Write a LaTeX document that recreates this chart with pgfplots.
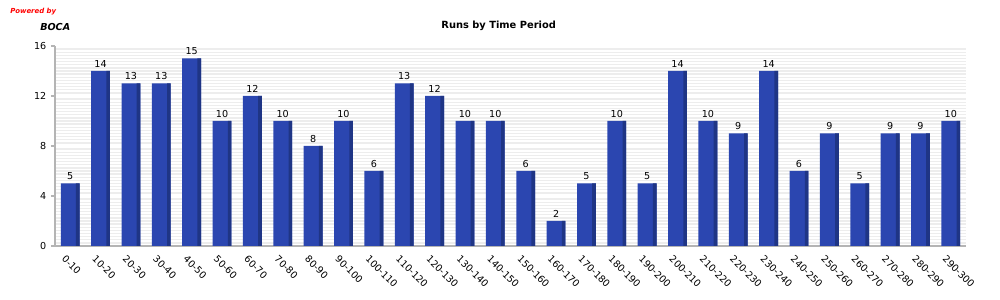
\documentclass[border=0pt]{standalone}
\usepackage{pgfplots}
\pgfplotsset{compat=1.18}
\usepackage{fontspec}
\setmainfont{DejaVu Sans}
\definecolor{barblue}{HTML}{2B46B0}
\definecolor{bardark}{HTML}{1F3585}
\definecolor{axgray}{HTML}{B4B4B4}
\definecolor{stripe}{HTML}{EDEDED}
\pgfplotstableread{
x y
0 5
1 14
2 13
3 13
4 15
5 10
6 12
7 10
8 8
9 10
10 6
11 13
12 12
13 10
14 10
15 6
16 2
17 5
18 10
19 5
20 14
21 10
22 9
23 14
24 6
25 9
26 5
27 9
28 9
29 10
}\runs
\begin{document}
\begin{tikzpicture}[x=1pt,y=1pt]
\useasboundingbox (0,0) rectangle (750,225);
\node[anchor=west,text=red,font=\fontsize{5.2}{6}\selectfont\bfseries\itshape,inner sep=0] at (7.5,216) {Powered by};
\node[anchor=west,font=\fontsize{7.2}{8}\selectfont\bfseries\itshape,inner sep=0] at (30,205) {BOCA};
\node[font=\fontsize{7.4}{8}\selectfont\bfseries] at (374,206) {Runs by Time Period};
\begin{axis}[
  at={(41.25pt,40.5pt)}, anchor=south west,
  width=683.25pt, height=150pt, scale only axis,
  xmin=-0.5, xmax=29.5, ymin=0, ymax=16,
  axis x line*=bottom, axis y line*=left,
  axis line style={axgray, line width=1.5pt, -},
  ytick={0,4,8,12,16},
  minor y tick num=15,
  yminorgrids=true,
  minor grid style={stripe, line width=1pt},
  minor tick length=0pt,
  xtick={0,...,29},
  xticklabels={0-10,10-20,20-30,30-40,40-50,50-60,60-70,70-80,80-90,90-100,100-110,110-120,120-130,130-140,140-150,150-160,160-170,170-180,180-190,190-200,200-210,210-220,220-230,230-240,240-250,250-260,260-270,270-280,280-290,290-300},
  x tick label style={rotate=-45, anchor=north west, font=\fontsize{7.2}{8}\selectfont, xshift=-3pt, yshift=-1pt},
  y tick label style={font=\fontsize{7.2}{8}\selectfont},
  /pgf/number format/assume math mode=true,
  major tick length=3pt,
  tick style={axgray, line width=1pt},
  xtick style={draw=none},
  extra x ticks={0.5,1.5,...,28.5},
  extra x tick labels={},
  extra x tick style={tick style={axgray, line width=1pt, draw=axgray}, major tick length=3pt, grid=none},
  tick align=outside,
  clip=false,
]
\addplot[ybar, bar width=0.62, fill=barblue, draw=none,
  nodes near coords, nodes near coords style={font=\fontsize{7.2}{8}\selectfont, text=black, yshift=-1pt}] table[x=x,y=y]{\runs};
\addplot[ybar, bar width=0.12, bar shift=0.25, fill=bardark, draw=none] table[x=x,y=y]{\runs};
\end{axis}
\end{tikzpicture}
\end{document}
